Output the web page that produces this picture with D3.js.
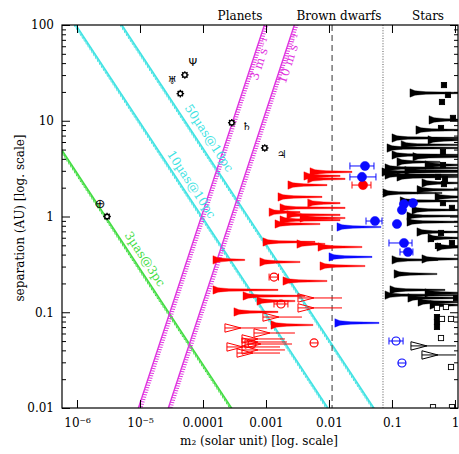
<!DOCTYPE html>
<html><head><meta charset="utf-8">
<script src="https://cdn.jsdelivr.net/npm/d3@7"></script>
<style>html,body{margin:0;padding:0;background:#fff}svg{display:block}</style>
</head><body>
<svg id="chart" width="459" height="454"></svg>
<script>
// ---------------- DATA ----------------
const xTickValues = [1e-6, 1e-5, 1e-4, 1e-3, 1e-2, 0.1, 1];
const xTickLabels = ["10\u207B\u2076", "10\u207B\u2075", "0.0001", "0.001", "0.01", "0.1", "1"];
const yTickValues = [100, 10, 1, 0.1, 0.01];
const yTickLabels = ["100", "10", "1", "0.1", "0.01"];

const regionLabels = ["Planets", "Brown dwarfs", "Stars"];
const regionCenterMass = [3.87e-4, 0.0144, 0.373];
const boundaryMass = [0.0112, 0.072]; // deuterium limit (dashed), hydrogen limit (dotted)

// Solar-system planets: mass [Msun], separation [AU]
const planetNames = ["Earth", "Jupiter", "Saturn", "Uranus", "Neptune"];
const planetMass = [3.0e-6, 9.55e-4, 2.86e-4, 4.37e-5, 5.15e-5];
const planetSep = [1.0, 5.20, 9.54, 19.2, 30.1];
const planetSymbols = ["\u2295", "\u2643", "\u2644", "\u2645", "\u03A8"];

// Detection limits: log10(a) = slope*log10(m) + intercept
const limitNames = ["3\u00B5as@3pc", "10\u00B5as@10pc", "50\u00B5as@10pc", "3 m s\u207B\u00B9", "10 m s\u207B\u00B9"];
const limitSlope = [-1, -1, -1, 2, 2];
const limitIntercept = [-5.545, -4.016, -3.286, 8.05, 7.10];
const limitLabelMass = [10 ** -5.046, 10 ** -4.300, 10 ** -4.044, 10 ** -3.19, 10 ** -2.715];

// Companions with m sin i range: [m_min, m_max, separation]
const redWedgesFilled = [
  [0.0050, 0.0232, 2.92], [0.0040, 0.0150, 2.65], [0.0046, 0.0180, 2.47],
  [0.00223, 0.0093, 2.13], [0.00155, 0.00775, 1.60], [0.0046, 0.0150, 1.38],
  [0.00167, 0.0180, 1.23], [0.00112, 0.00347, 1.11], [0.00215, 0.0150, 1.04],
  [0.00347, 0.0180, 0.964], [0.00167, 0.0150, 0.918], [0.00139, 0.0072, 0.835],
  [0.000895, 0.0060, 0.542], [0.0031, 0.00865, 0.516], [0.0067, 0.0334, 0.480],
  [0.0008, 0.00347, 0.335], [0.0072, 0.0373, 0.304], [0.000144, 0.00046, 0.352],
  [0.00186, 0.0093, 0.212], [0.000144, 0.00155, 0.171], [0.000432, 0.00416, 0.148],
  [0.00072, 0.00288, 0.131], [0.00031, 0.00155, 0.1007], [0.0012, 0.00557, 0.0736]
];
const redWedgesOpen = [
  [0.00322, 0.0161, 0.141], [0.00322, 0.0161, 0.111], [0.000895, 0.00372, 0.0891],
  [0.000223, 0.00104, 0.0685], [0.000645, 0.00288, 0.0607], [0.000416, 0.0020, 0.0526],
  [0.000416, 0.00215, 0.0489], [0.000464, 0.00259, 0.0466], [0.00024, 0.00167, 0.0434],
  [0.000416, 0.0020, 0.0404], [0.000347, 0.00167, 0.0375]
];
const blueWedgesFilled = [
  [0.0134, 0.0669, 0.777], [0.0100, 0.0482, 0.378], [0.0124, 0.0622, 0.0773]
];
const blackWedgesFilled = [
  [0.193, 1.5, 19.5], [0.387, 1.5, 10.2], [0.240, 1.5, 8.0], [0.373, 1.5, 6.3],
  [0.100, 1.5, 6.6], [0.0834, 1.5, 5.19], [0.100, 1.5, 4.39], [0.215, 1.5, 4.2],
  [0.120, 0.578, 3.71], [0.334, 1.5, 3.45], [0.0775, 1.5, 3.21], [0.0694, 1.5, 2.92],
  [0.0775, 1.5, 2.71], [0.120, 1.5, 2.59], [0.299, 1.5, 2.24], [0.0719, 0.622, 1.76],
  [0.482, 1.5, 1.60], [0.208, 1.5, 1.17], [0.173, 1.5, 1.01], [0.173, 1.5, 0.877],
  [0.249, 1.5, 0.689], [0.373, 1.5, 0.596], [0.518, 1.5, 0.480], [0.100, 0.537, 0.352],
  [0.299, 1.5, 0.360], [0.108, 0.518, 0.251], [0.0929, 0.694, 0.171], [0.0775, 1.5, 0.151],
  [0.334, 1.5, 0.159], [0.179, 1.5, 0.141], [0.259, 1.5, 0.128], [0.401, 1.5, 0.119],
  [0.140, 1.5, 5.6], [0.160, 1.5, 3.0], [0.250, 1.5, 1.9], [0.135, 1.5, 1.45]
];
const blackWedgesOpen = [
  [0.200, 1.04, 0.0445], [0.299, 1.04, 0.0358]
];

// Companions with true mass: [m, m_low, m_high, separation]
const redCirclesFilled = [[0.0347, 0.0232, 0.0464, 2.13]];
const redCirclesOpen = [
  [0.00134, 0.00112, 0.00158, 0.233], [0.00173, 0.00134, 0.00223, 0.122],
  [0.0058, 0.0058, 0.0058, 0.0478], [0.0006, 0.0006, 0.0006, 0.0466]
];
const blueCirclesFilled = [
  [0.0373, 0.0215, 0.0518, 3.37], [0.0334, 0.0215, 0.0557, 2.59],
  [0.0537, 0.0387, 0.0694, 0.897], [0.155, 0.0896, 0.208, 0.529],
  [0.179, 0.134, 0.215, 0.426], [0.155, 0.155, 0.155, 1.35],
  [0.215, 0.215, 0.215, 1.38], [0.144, 0.144, 0.144, 1.17], [0.120, 0.120, 0.120, 0.835]
];
const blueCirclesOpen = [
  [0.116, 0.0896, 0.150, 0.0501], [0.144, 0.134, 0.155, 0.0295]
];

// Stellar companions without m sin i range: [m, separation]
const blackSquaresFilled = [
  [0.669, 23.6], [0.774, 18.6], [0.622, 15.7], [0.929, 10.7], [0.600, 8.4], [0.645, 4.72],
  [0.645, 3.45], [0.537, 2.59], [0.694, 2.47], [0.669, 2.18], [0.645, 1.38], [0.896, 1.23],
  [0.600, 0.673], [0.416, 0.582], [0.537, 0.492], [0.896, 0.529], [1.04, 0.141],
  [0.518, 0.0891], [0.518, 0.0791], [0.518, 0.0702]
];
const blackSquaresOpen = [
  [0.518, 0.111], [0.719, 0.1135], [0.622, 0.0851], [0.865, 0.0851],
  [0.600, 0.0538], [0.865, 0.0268], [0.448, 0.0102], [0.896, 0.0102]
];

// ---------------- STYLE / LAYOUT ----------------
const L = 62, R = 458, T = 25, B = 408;
const SERIF = "'DejaVu Serif', serif";
const CYAN = "#3fe3e3", GREEN = "#44dd44", MAGENTA = "#e033e0", RED = "#ff0000", BLUE = "#0a0aff";

const x = d3.scaleLog().domain([10 ** -6.238, 10 ** 0.048]).range([L, R]);
const y = d3.scaleLog().domain([0.01, 100]).range([B, T]);

const svg = d3.select("#chart");
svg.append("defs").append("clipPath").attr("id", "plotclip")
  .append("rect").attr("x", L).attr("y", T).attr("width", R - L).attr("height", B - T);
const plot = svg.append("g").attr("clip-path", "url(#plotclip)");

// ---------- detection-limit lines with hatching ----------
const limitColor = [GREEN, CYAN, CYAN, MAGENTA, MAGENTA];
function limitSep(i, m) { return 10 ** (limitSlope[i] * Math.log10(m) + limitIntercept[i]); }
limitNames.forEach((name, i) => {
  const m0 = 10 ** -7, m1 = 10;
  const p0 = [x(m0), y(limitSep(i, m0))], p1 = [x(m1), y(limitSep(i, m1))];
  const g = plot.append("g");
  g.append("line").attr("x1", p0[0]).attr("y1", p0[1]).attr("x2", p1[0]).attr("y2", p1[1])
    .attr("stroke", limitColor[i]).attr("stroke-width", 1.4);
  const len = Math.hypot(p1[0] - p0[0], p1[1] - p0[1]);
  const rv = limitSlope[i] > 0;
  const step = rv ? 2.5 : 3.5;
  const hv = rv ? [4, 0.6] : [1.2, 5.5];
  const ticks = [];
  for (let s = 0; s < len; s += step) {
    const t = s / len;
    const px = p0[0] + t * (p1[0] - p0[0]), py = p0[1] + t * (p1[1] - p0[1]);
    if (px > L - 10 && px < R + 10 && py > T - 10 && py < B + 10) ticks.push([px, py]);
  }
  g.selectAll("line.h").data(ticks).join("line").attr("class", "h")
    .attr("x1", d => d[0]).attr("y1", d => d[1])
    .attr("x2", d => d[0] + hv[0]).attr("y2", d => d[1] + hv[1])
    .attr("stroke", limitColor[i]).attr("stroke-width", 1);
});

// labels along the lines
const labelOffset = [-5.4, -4.8, -6.6, 11, 10.2];
limitNames.forEach((name, i) => {
  const m = limitLabelMass[i];
  const px = x(m), py = y(limitSep(i, m));
  const ang = Math.atan2(y(limitSep(i, m * 10)) - py, x(m * 10) - px) * 180 / Math.PI;
  svg.append("text").attr("transform", `translate(${px},${py}) rotate(${ang})`)
    .attr("y", labelOffset[i]).attr("text-anchor", "middle")
    .attr("font-family", SERIF).attr("font-size", 12).attr("fill", limitColor[i])
    .text(name);
});

// ---------- boundaries ----------
plot.append("line").attr("x1", x(boundaryMass[0])).attr("x2", x(boundaryMass[0]))
  .attr("y1", T).attr("y2", B).attr("stroke", "#555").attr("stroke-width", 1.2).attr("stroke-dasharray", "6,4");
plot.append("line").attr("x1", x(boundaryMass[1])).attr("x2", x(boundaryMass[1]))
  .attr("y1", T).attr("y2", B).attr("stroke", "#666").attr("stroke-width", 1.1).attr("stroke-dasharray", "1,1.6");

// ---------- solar system ----------
const symOffset = [[-7, -9], [17, 10], [15, 7], [-8, -10], [8, -9]];
planetNames.forEach((n, i) => {
  const px = x(planetMass[i]), py = y(planetSep[i]);
  const g = plot.append("g").attr("transform", `translate(${px},${py})`);
  for (let k = 0; k < 8; k++) {
    const a = k * Math.PI / 4;
    g.append("line").attr("x1", 2.2 * Math.cos(a)).attr("y1", 2.2 * Math.sin(a))
      .attr("x2", 3.8 * Math.cos(a)).attr("y2", 3.8 * Math.sin(a))
      .attr("stroke", "#000").attr("stroke-width", 1.3);
  }
  g.append("circle").attr("r", 2.3).attr("fill", "#fff").attr("stroke", "#000").attr("stroke-width", 1.4);
  svg.append("text").attr("x", px + symOffset[i][0]).attr("y", py + symOffset[i][1])
    .attr("text-anchor", "middle").attr("font-family", "'DejaVu Sans', sans-serif")
    .attr("font-size", i === 0 ? 13 : 11).attr("fill", "#000").text(planetSymbols[i]);
});

// ---------- wedges ----------
const WL = 16, WH = 4.2;
function wedgeFilled(d) {
  const x0 = x(d[0]), xa = x0 + WL, xe = Math.max(x(d[1]), xa), yy = y(d[2]);
  return `M${x0},${yy - WH}L${x0 + 5},${yy - 2.2}L${xa},${yy - 1.2}L${xe},${yy - 0.6}L${xe},${yy + 0.6}L${xa},${yy + 1.2}L${x0 + 5},${yy + 2.2}L${x0},${yy + WH}Z`;
}
function wedgeOpen(d) {
  const x0 = x(d[0]), xa = x0 + WL, xe = Math.max(x(d[1]), xa), yy = y(d[2]);
  return `M${x0},${yy - WH}L${xa},${yy}L${x0},${yy + WH}Z M${x0},${yy}L${xe},${yy}`;
}
function drawWedges(data, color, filled) {
  plot.append("g").selectAll("path").data(data).join("path")
    .attr("d", filled ? wedgeFilled : wedgeOpen)
    .attr("fill", filled ? color : "none")
    .attr("stroke", color).attr("stroke-width", filled ? 0.4 : 1);
}
drawWedges(blackWedgesFilled, "#000", true);
drawWedges(blackWedgesOpen, "#000", false);
drawWedges(redWedgesFilled, RED, true);
drawWedges(redWedgesOpen, RED, false);
drawWedges(blueWedgesFilled, BLUE, true);

// ---------- squares ----------
function drawSquares(data, filled) {
  plot.append("g").selectAll("rect").data(data).join("rect")
    .attr("x", d => x(d[0]) - 2.6).attr("y", d => y(d[1]) - 2.6)
    .attr("width", 5.2).attr("height", 5.2)
    .attr("fill", filled ? "#000" : "#fff").attr("stroke", "#000").attr("stroke-width", 0.9);
}
drawSquares(blackSquaresFilled, true);
drawSquares(blackSquaresOpen, false);

// ---------- circles with error bars ----------
function drawCircles(data, color, filled) {
  const g = plot.append("g");
  data.forEach(d => {
    const cx = x(d[0]), lo = x(d[1]), hi = x(d[2]), cy = y(d[3]);
    const r = filled ? 4.6 : 4;
    const ex0 = Math.min(lo, cx - r), ex1 = Math.max(hi, cx + r);
    g.append("line").attr("x1", ex0).attr("x2", ex1).attr("y1", cy).attr("y2", cy)
      .attr("stroke", color).attr("stroke-width", 1);
    if (hi - lo > 2 * r) {
      [lo, hi].forEach(xx => g.append("line").attr("x1", xx).attr("x2", xx)
        .attr("y1", cy - 3.5).attr("y2", cy + 3.5).attr("stroke", color).attr("stroke-width", 1));
    }
    g.append("circle").attr("cx", cx).attr("cy", cy).attr("r", r)
      .attr("fill", filled ? color : "none").attr("stroke", color).attr("stroke-width", filled ? 0.5 : 1.2);
  });
}
drawCircles(redCirclesOpen, RED, false);
drawCircles(redCirclesFilled, RED, true);
drawCircles(blueCirclesOpen, BLUE, false);
drawCircles(blueCirclesFilled, BLUE, true);

// ---------- axes ----------
const axes = svg.append("g").attr("font-family", SERIF);
axes.append("g").attr("transform", `translate(0,${B})`)
  .call(d3.axisBottom(x).tickValues(xTickValues).tickFormat((d, i) => xTickLabels[i]).tickSize(-8).tickPadding(10));
axes.append("g").attr("transform", `translate(0,${T})`)
  .call(d3.axisTop(x).tickValues(xTickValues).tickFormat("").tickSize(-8));
axes.append("g").attr("transform", `translate(${L},0)`)
  .call(d3.axisLeft(y).tickValues(yTickValues).tickFormat((d, i) => yTickLabels[i]).tickSize(-8).tickPadding(8));
axes.append("g").attr("transform", `translate(${R},0)`)
  .call(d3.axisRight(y).tickValues(yTickValues).tickFormat("").tickSize(-8));
const minor = [];
for (let e = -2; e < 2; e++) for (let k = 2; k <= 9; k++) minor.push(k * 10 ** e);
axes.append("g").attr("transform", `translate(${L},0)`)
  .call(d3.axisLeft(y).tickValues(minor).tickFormat("").tickSize(-4));
axes.append("g").attr("transform", `translate(${R},0)`)
  .call(d3.axisRight(y).tickValues(minor).tickFormat("").tickSize(-4));
axes.selectAll(".domain").remove();
axes.selectAll(".tick line").attr("stroke", "#000").attr("stroke-width", 1);
axes.selectAll(".tick text").attr("font-size", 12).attr("fill", "#000").attr("font-family", SERIF);

svg.append("rect").attr("x", L).attr("y", T).attr("width", R - L).attr("height", B - T)
  .attr("fill", "none").attr("stroke", "#000").attr("stroke-width", 1.2);

// ---------- titles ----------
regionLabels.forEach((t, i) => {
  svg.append("text").attr("x", x(regionCenterMass[i])).attr("y", 20).attr("text-anchor", "middle")
    .attr("font-family", SERIF).attr("font-size", 12).attr("fill", "#000").text(t);
});
svg.append("text").attr("x", 259).attr("y", 445).attr("text-anchor", "middle")
  .attr("font-family", SERIF).attr("font-size", 12).attr("fill", "#000")
  .text("m\u2082 (solar unit) [log. scale]");
svg.append("text").attr("transform", "translate(24,218) rotate(-90)").attr("text-anchor", "middle")
  .attr("font-family", SERIF).attr("font-size", 12).attr("fill", "#000")
  .text("separation (AU) [log. scale]");
</script>
</body></html>
